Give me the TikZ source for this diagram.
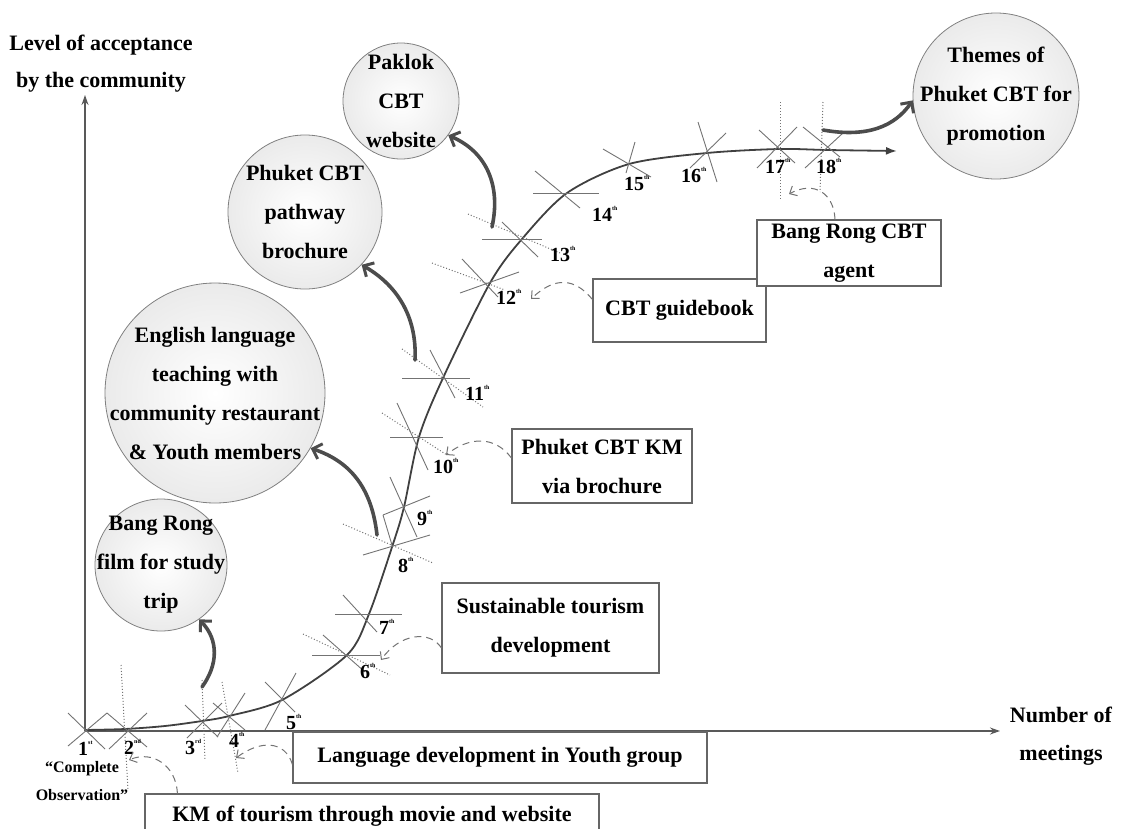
\documentclass[tikz,border=0pt]{standalone}
\usepackage{fontspec}
\setmainfont{Liberation Serif}
\usetikzlibrary{arrows.meta,calc}
\newcommand\ordsup[1]{\raisebox{0.55em}{\fontsize{6}{6}\selectfont #1}}
\begin{document}
\begin{tikzpicture}[x=1pt,y=-1pt,
  txt/.style={font=\fontsize{22}{39}\selectfont\bfseries, align=center},
  bubble/.style={circle, draw=black!50, line width=0.8pt, inner color=white, outer color=black!8, inner sep=0pt},
  tag/.style={rectangle, draw=black!60, line width=1.1pt, fill=white, txt, inner sep=0pt},
  mk/.style={draw=black!55, line width=0.9pt},
  mkdot/.style={draw=black!55, line width=1pt, dotted},
  num/.style={font=\fontsize{20}{20}\selectfont\bfseries, anchor=west, inner sep=0pt},
  push/.style={draw=black!70, line width=3.6pt, line cap=round, -{Straight Barb[length=8pt,width=16pt,line width=3pt]}},
  hint/.style={draw=black!55, line width=1pt, dash pattern=on 7pt off 5pt, -{Straight Barb[length=6pt,width=11pt,line width=1pt]}},
  axis/.style={draw=black!65, line width=1.4pt, -{Stealth[length=10pt,width=7pt]}},
]
\useasboundingbox (0,0) rectangle (1125,828);

% axes
\coordinate (o) at (85,731);
\coordinate (ytop) at (85,95);
\coordinate (xend) at (1000,731);
\draw[axis] (o) -- (ytop);
\draw[axis] (o) -- (xend);
\node[txt, font=\fontsize{22}{37}\selectfont\bfseries] (ylab) at (101,64) {Level of acceptance\\by the community};
\node[txt, font=\fontsize{22}{38}\selectfont\bfseries] (xlab) at (1061,736) {Number of\\meetings};

% meeting points along the curve
\coordinate (m1) at (85,730);
\coordinate (m2) at (125,729);
\coordinate (m3) at (202,721);
\coordinate (m4) at (229,716);
\coordinate (m5) at (282,700);
\coordinate (m6) at (347,655);
\coordinate (m7) at (369,614);
\coordinate (m8) at (393,544);
\coordinate (m9) at (404,507);
\coordinate (m10) at (419,437);
\coordinate (m11) at (443,378);
\coordinate (m12) at (490,283);
\coordinate (m13) at (522,239);
\coordinate (m14) at (567,193);
\coordinate (m15) at (629,164);
\coordinate (m16) at (707,153);
\coordinate (m17) at (779,149);
\coordinate (m18) at (827,150);
\coordinate (mend) at (897,151);

% acceptance curve
\draw[draw=black!75, line width=1.8pt, -{Latex[length=11pt,width=8pt]}]
  plot[smooth, tension=0.5] coordinates {(85,730) (125,729) (165,726) (202,721) (229,716) (282,700) (347,655) (369,614) (393,544) (404,507) (419,437) (443,378) (490,283) (522,239) (567,193) (629,164) (707,153) (779,149) (827,150) (897,151)};

% cross marks at each meeting
\draw[mk] (68,713) -- (105,749);  \draw[mk] (68,746) -- (107,713);
\draw[mk] (107,713) -- (147,747); \draw[mk] (109,749) -- (147,713);
\draw[mkdot] (121,665) -- (128,790);
\draw[mk] (185,705) -- (218,737); \draw[mk] (187,738) -- (222,703);
\draw[mk] (213,703) -- (245,730); \draw[mk] (217,737) -- (245,693);
\draw[mkdot] (202,680) -- (205,760);
\draw[mkdot] (222,682) -- (238,773);
\draw[mk] (265,730) -- (296,673); \draw[mk] (265,682) -- (295,712);
\draw[mk] (312,655) -- (380,655); \draw[mk] (323,635) -- (365,672);
\draw[mkdot] (303,634) -- (390,675);
\draw[mk] (335,614) -- (402,614); \draw[mk] (343,595) -- (377,632);
\draw[mk] (363,555) -- (430,535);
\draw[mkdot] (343,524) -- (433,563);
\draw[mk] (383,515) -- (430,496); \draw[mk] (390,477) -- (417,537);
\draw[mk] (383,515) -- (392,545);
\draw[mk] (390,437) -- (443,437); \draw[mk] (397,403) -- (428,470);
\draw[mkdot] (382,413) -- (447,455);
\draw[mk] (402,378) -- (470,378); \draw[mk] (430,350) -- (455,398);
\draw[mkdot] (402,349) -- (483,407);
\draw[mk] (460,293) -- (519,272); \draw[mk] (462,259) -- (498,297);
\draw[mkdot] (432,263) -- (505,290);
\draw[mk] (482,239) -- (542,239); \draw[mk] (502,222) -- (538,257);
\draw[mkdot] (468,214) -- (560,253);
\draw[mk] (533,193) -- (599,193); \draw[mk] (535,171) -- (580,208);
\draw[mk] (603,149) -- (651,177); \draw[mk] (635,142) -- (626,173);
\draw[mk] (698,122) -- (717,182); \draw[mk] (690,168) -- (726,133);
\draw[mk] (759,130) -- (795,163); \draw[mk] (757,168) -- (797,127);
\draw[mkdot] (780,102) -- (780,200);
\draw[mk] (803,127) -- (840,157); \draw[mk] (805,168) -- (843,133);
\draw[mkdot] (823,102) -- (820,192);

% meeting numbers
\node[num] (n1) at (78,748) {1\ordsup{st}};
\node[num] (n2) at (124,747) {2\ordsup{nd}};
\node[num] (n3) at (185,747) {3\ordsup{rd}};
\node[num] (n4) at (229,740) {4\ordsup{th}};
\node[num] (n5) at (286,722) {5\ordsup{th}};
\node[num] (n6) at (360,671) {6\ordsup{th}};
\node[num] (n7) at (379,627) {7\ordsup{th}};
\node[num] (n8) at (398,565) {8\ordsup{th}};
\node[num] (n9) at (417,518) {9\ordsup{th}};
\node[num] (n10) at (433,466) {10\ordsup{th}};
\node[num] (n11) at (465,393) {11\ordsup{th}};
\node[num] (n12) at (496,297) {12\ordsup{th}};
\node[num] (n13) at (550,254) {13\ordsup{th}};
\node[num] (n14) at (592,214) {14\ordsup{th}};
\node[num] (n15) at (624,183) {15\ordsup{th}};
\node[num] (n16) at (681,175) {16\ordsup{th}};
\node[num] (n17) at (765,166) {17\ordsup{th}};
\node[num] (n18) at (816,166) {18\ordsup{th}};
\node[txt, font=\fontsize{16}{28}\selectfont\bfseries] (obs) at (82,781) {“Complete\\Observation”};

% outcome bubbles (circle outline, then its text on top)
\node[bubble, minimum size=132pt] (film) at (161,565) {};
\node[txt] (filmtxt) at (film.center) {Bang Rong\\film for study\\trip};
\node[bubble, minimum size=220pt] (eng) at (215,393) {};
\node[txt] (engtxt) at (eng.center) {English language\\teaching with\\community restaurant\\\& Youth members};
\node[bubble, minimum size=154pt] (path) at (305,212) {};
\node[txt] (pathtxt) at (path.center) {Phuket CBT\\pathway\\brochure};
\node[bubble, minimum size=116pt] (pak) at (401,101) {};
\node[txt] (paktxt) at (pak.center) {Paklok\\CBT\\website};
\node[bubble, minimum size=166pt] (theme) at (996,96) {};
\node[txt] (themetxt) at (theme.center) {Themes of\\Phuket CBT for\\promotion};

% activity boxes
\node[tag, minimum width=217pt, minimum height=90pt] (sust) at (550.5,628) {Sustainable tourism\\development};
\node[tag, minimum width=180pt, minimum height=74pt] (kmb) at (602,466) {Phuket CBT KM\\via brochure};
\node[tag, minimum width=173pt, minimum height=63pt] (guide) at (679.5,310.5) {CBT guidebook};
\node[tag, minimum width=184pt, minimum height=66pt] (agent) at (849,253) {Bang Rong CBT\\agent};
\node[tag, minimum width=414pt, minimum height=51pt] (lang) at (500,757.5) {Language development in Youth group};
\node[tag, minimum width=454pt, minimum height=44pt] (movie) at (372,816) {KM of tourism through movie and website};

% outcome arrows
\coordinate (s3) at (202,687);
\coordinate (s8) at (377,535);
\coordinate (s11) at (415,360);
\coordinate (s13) at (492,227);
\coordinate (s18) at (823,130);
\draw[push] (s3) .. controls (218,665) and (219,640) .. (film.-55);
\draw[push] (s8) .. controls (372,490) and (352,462) .. (eng.-30);
\draw[push] (s11) .. controls (417,320) and (400,287) .. (path.-43);
\draw[push] (s13) .. controls (501,186) and (487,152) .. (pak.-36);
\draw[push] (s18) .. controls (868,138) and (895,126) .. (theme.183);

% hint arrows from activities to meetings
\coordinate (t2) at (129,760);
\coordinate (t4) at (236,758);
\coordinate (t6) at (381,660);
\coordinate (t10) at (446,455);
\coordinate (t12) at (531,299);
\coordinate (t17) at (789,194);
\draw[hint] ($(movie.north west)+(33,0)$) .. controls (176,765) and (152,750) .. (t2);
\draw[hint] ($(lang.west)+(0,7)$) .. controls (285,740) and (260,740) .. (t4);
\draw[hint] ($(sust.west)+(0,20)$) .. controls (430,630) and (400,633) .. (t6);
\draw[hint] ($(kmb.west)+(0,-8)$) .. controls (495,436) and (470,436) .. (t10);
\draw[hint] ($(guide.west)+(0,-11)$) .. controls (575,278) and (555,276) .. (t12);
\draw[hint] ($(agent.north)+(-14,0)$) .. controls (834,194) and (815,180) .. (t17);
\end{tikzpicture}
\end{document}
